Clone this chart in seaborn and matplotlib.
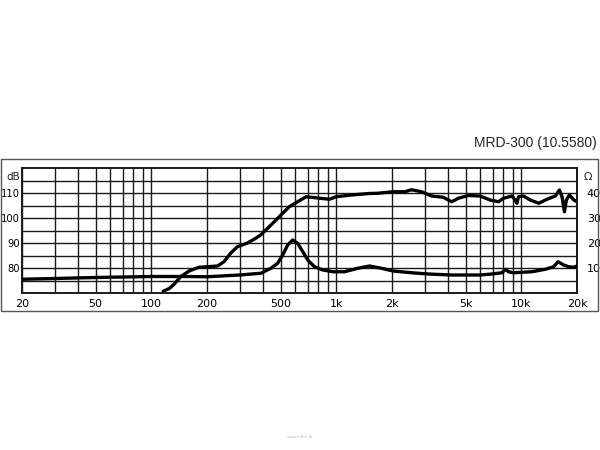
import matplotlib
matplotlib.use('Agg')
import matplotlib.pyplot as plt
import matplotlib.patches as patches
import numpy as np
import seaborn as sns

spl_freq = [116, 125, 132, 144, 160, 181, 201, 228, 247, 269,
            292, 331, 367, 391, 416, 462, 513, 557, 618, 687,
            794, 918, 998, 1205, 1513, 1682, 2029, 2345, 2549, 2889,
            3273, 3786, 4200, 4570, 5175, 5984, 6780, 7530, 8010, 8885,
            9270, 9460, 9660, 10280, 11170, 12410, 13770, 15280, 16070, 16600,
            17100, 17530, 18200, 19230, 20000]
spl_db = [70.7, 71.8, 73.3, 76.5, 78.8, 80.3, 80.5, 80.8, 82.5, 86.0,
          88.5, 90.0, 91.9, 93.3, 95.2, 98.5, 101.9, 104.5, 106.5, 108.5,
          108.0, 107.5, 108.5, 109.2, 109.8, 109.9, 110.5, 110.5, 111.3, 110.5,
          108.8, 108.3, 106.5, 107.9, 109.0, 108.8, 107.2, 106.5, 107.9, 108.8,
          107.2, 105.9, 108.5, 108.8, 107.2, 105.9, 107.5, 108.8, 111.2, 108.5,
          102.5, 107.2, 109.2, 107.2, 106.5]

imp_freq = [20, 30, 50, 100, 150, 200, 300,
            391, 443, 482, 513, 546, 581, 618, 659, 701, 762,
            846, 957, 1107, 1309, 1513, 1750, 2029, 2549, 3140, 4200,
            5984, 6925, 7840, 8240, 8520, 9070, 11400, 13490, 14960, 15780,
            16950, 18050, 19230, 20000]
imp_ohm = [5.5, 5.8, 6.2, 6.6, 6.6, 6.5, 7.2,
           7.9, 9.9, 11.9, 15.2, 19.2, 21.2, 19.9, 16.5, 13.2, 10.5,
           9.2, 8.5, 8.5, 9.9, 10.8, 9.9, 8.8, 8.1, 7.6, 7.2,
           7.2, 7.6, 8.1, 9.5, 8.5, 8.1, 8.5, 9.5, 10.5, 12.5,
           11.2, 10.5, 10.3, 10.8]

x_ticks = [20, 50, 100, 200, 500, 1000, 2000, 5000, 10000, 20000]
x_labels = ['20', '50', '100', '200', '500', '1k', '2k', '5k', '10k', '20k']
db_ticks = [80, 90, 100, 110]
ohm_ticks = [10, 20, 30, 40]
titel = 'MRD-300 (10.5580)'

sns.set_style('white')
plt.rcParams['font.family'] = ['DejaVu Sans']

fig = plt.figure(figsize=(6, 4.5), dpi=100)
ax = fig.add_axes([22 / 600, 1 - 293 / 450, 555 / 600, 125 / 450])
ax2 = ax.twinx()

# Raster
ax.set_xscale('log')
ax.set_xlim(20, 20000)
ax.set_ylim(70, 120)
ax2.set_ylim(0, 50)
grid_f = [m * 10 ** e for e in range(1, 5) for m in range(1, 10)]
grid_f = [f for f in grid_f if 20 <= f <= 20000]
for f in grid_f:
    ax.axvline(f, color='#1a1a1a', lw=1.0, zorder=1)
for d in range(75, 120, 5):
    ax.axhline(d, color='#1a1a1a', lw=1.0, zorder=1)

sns.lineplot(x=spl_freq, y=spl_db, ax=ax, color='black', lw=2.4, estimator=None, zorder=3)
sns.lineplot(x=imp_freq, y=imp_ohm, ax=ax2, color='black', lw=2.4, estimator=None, zorder=3)

ax.set_xticks(x_ticks)
ax.set_xticklabels(x_labels)
ax.xaxis.set_minor_locator(matplotlib.ticker.NullLocator())
ax.set_yticks(db_ticks)
ax.set_yticklabels([str(v) for v in db_ticks])
ax2.set_yticks(ohm_ticks)
ax2.set_yticklabels([str(v) for v in ohm_ticks])
ax.tick_params(axis='x', length=0, labelsize=8, colors='black', pad=4)
ax.tick_params(axis='y', length=0, labelsize=7.2, colors='black', pad=1.5)
ax2.tick_params(axis='y', length=0, labelsize=8, pad=7, colors='black')
for a in (ax, ax2):
    for s in a.spines.values():
        s.set_color('#1a1a1a')
        s.set_linewidth(1.2)
ax.set_xlabel('')
ax.set_ylabel('')
ax2.set_ylabel('')

ax.text(-0.004, 0.97, 'dB', transform=ax.transAxes, ha='right', va='top', fontsize=7.5)
ax2.text(1.012, 0.97, 'Ω', transform=ax.transAxes, ha='left', va='top', fontsize=8)

# aeusserer Rahmen
fig.patches.append(patches.Rectangle((0.5 / 600, 1 - 311 / 450), 597 / 600, 152 / 450,
                                     transform=fig.transFigure, fill=False,
                                     edgecolor='#555555', lw=1.0))

fig.text(597 / 600, 1 - 143 / 450, titel, ha='right', va='center', fontsize=10,
         family=['Liberation Sans', 'DejaVu Sans'])
fig.text(0.5, 1 - 437 / 450, 'www.b4b2.pl', ha='center', va='center', fontsize=3, color='#bbbbbb')

fig.savefig('out.png', dpi=100)
